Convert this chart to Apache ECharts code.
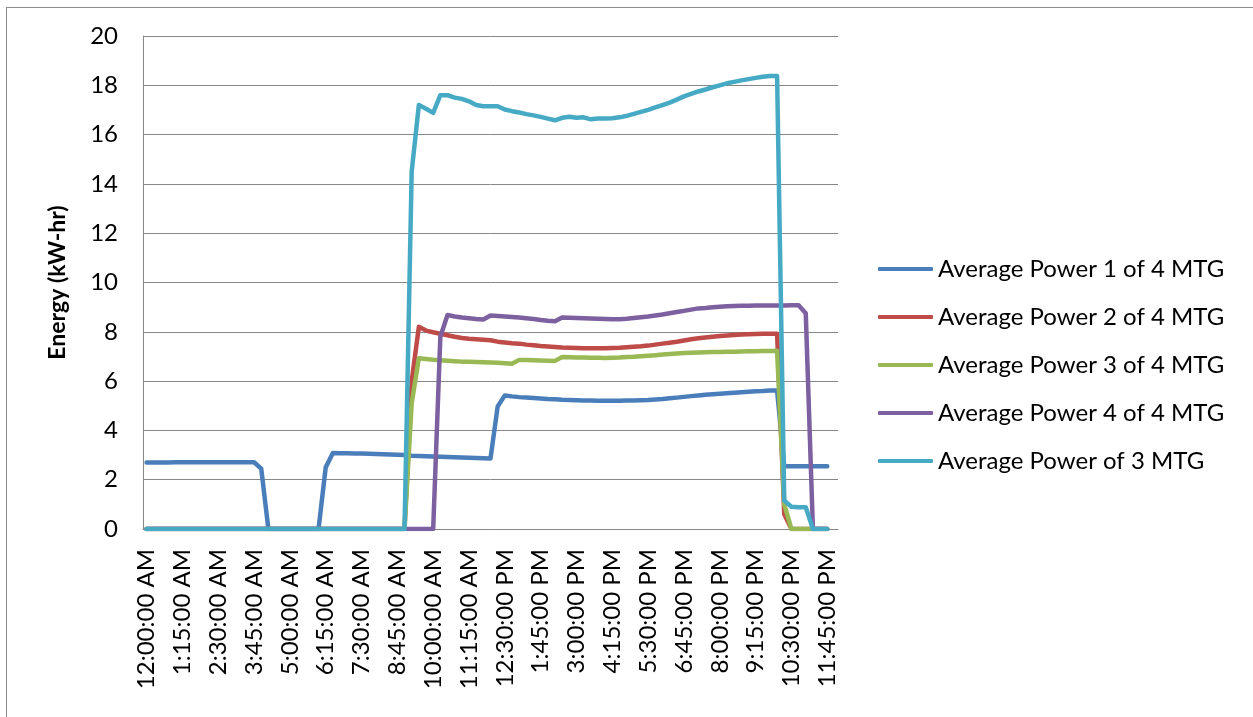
<!DOCTYPE html>
<html>
<head>
<meta charset="utf-8">
<script src="https://cdn.jsdelivr.net/npm/echarts@6/dist/echarts.min.js"></script>
<style>
  html, body { margin: 0; padding: 0; background: #fff; }
  #wrap { position: relative; width: 1253px; height: 717px; overflow: hidden; }
  #frame { position: absolute; left: 6px; top: 7px; right: -4px; bottom: -4px;
           border-top: 1px solid #8c8c8c; border-left: 1px solid #8c8c8c; }
  #chart { position: absolute; left: 0; top: 0; width: 1253px; height: 717px; }
</style>
</head>
<body>
<div id="wrap">
  <div id="frame"></div>
  <div id="chart"></div>
</div>
<script>
// 15-minute time slots for one day (plus the closing midnight slot)
const timeSlots = [
  '12:00:00 AM','12:15:00 AM','12:30:00 AM','12:45:00 AM',
  '1:00:00 AM','1:15:00 AM','1:30:00 AM','1:45:00 AM',
  '2:00:00 AM','2:15:00 AM','2:30:00 AM','2:45:00 AM',
  '3:00:00 AM','3:15:00 AM','3:30:00 AM','3:45:00 AM',
  '4:00:00 AM','4:15:00 AM','4:30:00 AM','4:45:00 AM',
  '5:00:00 AM','5:15:00 AM','5:30:00 AM','5:45:00 AM',
  '6:00:00 AM','6:15:00 AM','6:30:00 AM','6:45:00 AM',
  '7:00:00 AM','7:15:00 AM','7:30:00 AM','7:45:00 AM',
  '8:00:00 AM','8:15:00 AM','8:30:00 AM','8:45:00 AM',
  '9:00:00 AM','9:15:00 AM','9:30:00 AM','9:45:00 AM',
  '10:00:00 AM','10:15:00 AM','10:30:00 AM','10:45:00 AM',
  '11:00:00 AM','11:15:00 AM','11:30:00 AM','11:45:00 AM',
  '12:00:00 PM','12:15:00 PM','12:30:00 PM','12:45:00 PM',
  '1:00:00 PM','1:15:00 PM','1:30:00 PM','1:45:00 PM',
  '2:00:00 PM','2:15:00 PM','2:30:00 PM','2:45:00 PM',
  '3:00:00 PM','3:15:00 PM','3:30:00 PM','3:45:00 PM',
  '4:00:00 PM','4:15:00 PM','4:30:00 PM','4:45:00 PM',
  '5:00:00 PM','5:15:00 PM','5:30:00 PM','5:45:00 PM',
  '6:00:00 PM','6:15:00 PM','6:30:00 PM','6:45:00 PM',
  '7:00:00 PM','7:15:00 PM','7:30:00 PM','7:45:00 PM',
  '8:00:00 PM','8:15:00 PM','8:30:00 PM','8:45:00 PM',
  '9:00:00 PM','9:15:00 PM','9:30:00 PM','9:45:00 PM',
  '10:00:00 PM','10:15:00 PM','10:30:00 PM','10:45:00 PM',
  '11:00:00 PM','11:15:00 PM','11:30:00 PM','11:45:00 PM',
  '12:00:00 AM'
];

const seriesNames = [
  'Average Power 1 of 4 MTG',
  'Average Power 2 of 4 MTG',
  'Average Power 3 of 4 MTG',
  'Average Power 4 of 4 MTG',
  'Average Power of 3 MTG'
];

// Average power per 15-minute slot (kW-hr)
const power1of4 = [
  2.70,2.70,2.70,2.70,2.71,2.71,2.71,2.71,2.71,2.71,2.71,2.71,2.71,2.71,2.71,2.71,
  2.45,0,0,0,0,0,0,0,0,
  2.50,3.08,3.07,3.07,3.06,3.06,3.05,3.04,3.03,3.02,3.01,3.00,
  2.97,2.96,2.95,2.94,2.93,2.92,2.91,2.90,2.89,2.88,2.87,2.86,
  4.97,5.42,5.38,5.35,5.33,5.31,5.29,5.27,5.26,5.24,5.23,5.22,5.21,5.21,5.20,
  5.20,5.20,5.20,5.21,5.21,5.22,5.23,5.25,5.27,5.30,5.33,5.36,5.39,5.42,5.45,
  5.47,5.49,5.51,5.53,5.55,5.57,5.59,5.60,5.62,5.62,
  2.55,2.55,2.55,2.55,2.55,2.55,2.55
];

const power2of4 = [
  0,0,0,0,0,0,0,0,0,0,0,0,0,0,0,0,0,0,0,0,0,0,0,0,0,0,0,0,0,0,0,0,0,0,0,0,0,
  6.0,8.2,8.05,7.98,7.92,7.86,7.80,7.75,7.72,7.70,7.68,7.66,7.60,7.57,7.54,7.52,
  7.48,7.45,7.42,7.40,7.38,7.36,7.35,7.34,7.33,7.33,7.33,7.33,7.34,7.35,7.37,
  7.39,7.41,7.44,7.48,7.52,7.56,7.60,7.65,7.70,7.74,7.77,7.80,7.83,7.85,7.87,
  7.89,7.90,7.91,7.92,7.92,7.92,
  0.6,0,0,0,0,0,0
];

const power3of4 = [
  0,0,0,0,0,0,0,0,0,0,0,0,0,0,0,0,0,0,0,0,0,0,0,0,0,0,0,0,0,0,0,0,0,0,0,0,0,
  5.1,6.93,6.90,6.87,6.85,6.83,6.81,6.79,6.78,6.77,6.76,6.75,6.74,6.72,6.70,
  6.86,6.86,6.85,6.84,6.83,6.82,6.98,6.97,6.96,6.96,6.95,6.95,6.94,6.95,6.96,
  6.98,6.99,7.01,7.03,7.05,7.08,7.10,7.12,7.14,7.15,7.16,7.17,7.18,7.18,7.19,
  7.19,7.20,7.21,7.21,7.22,7.22,7.23,
  1.0,0,0,0,0,0,0
];

const power4of4 = [
  0,0,0,0,0,0,0,0,0,0,0,0,0,0,0,0,0,0,0,0,0,0,0,0,0,0,0,0,0,0,0,0,0,0,0,0,0,
  0,0,0,0,
  7.8,8.68,8.62,8.58,8.55,8.52,8.50,8.66,8.64,8.62,8.60,8.58,8.55,8.52,8.48,
  8.45,8.43,8.58,8.57,8.56,8.55,8.54,8.53,8.52,8.51,8.51,8.53,8.56,8.59,8.62,
  8.66,8.70,8.75,8.80,8.85,8.90,8.95,8.97,9.00,9.02,9.04,9.05,9.06,9.06,9.07,
  9.07,9.07,9.07,9.07,9.08,9.08,8.75,
  0,0,0
];

const powerOf3 = [
  0,0,0,0,0,0,0,0,0,0,0,0,0,0,0,0,0,0,0,0,0,0,0,0,0,0,0,0,0,0,0,0,0,0,0,0,0,
  14.5,17.2,17.05,16.88,17.6,17.6,17.5,17.45,17.35,17.2,17.15,17.15,17.15,
  17.02,16.95,16.9,16.83,16.78,16.72,16.65,16.58,16.68,16.72,16.68,16.70,
  16.62,16.65,16.65,16.66,16.70,16.76,16.84,16.92,17.0,17.1,17.2,17.3,17.42,
  17.55,17.65,17.75,17.83,17.92,18.0,18.08,18.14,18.2,18.25,18.3,18.35,18.38,
  18.38,
  1.15,0.9,0.88,0.88,0,0,0
];

const seriesData = [power1of4, power2of4, power3of4, power4of4, powerOf3];
const seriesColors = ['#4A7EBB', '#BE4B48', '#98B954', '#7D60A0', '#46AAC5'];

const FONT = 'Lato, "Open Sans", sans-serif';
const GRID_COLOR = '#878787';

const chart = echarts.init(document.getElementById('chart'), null, { renderer: 'canvas' });

chart.setOption({
  animation: false,
  backgroundColor: 'transparent',
  textStyle: { fontFamily: FONT },
  grid: { left: 143, right: 415, top: 36, bottom: 188 },
  legend: {
    orient: 'vertical',
    left: 878,
    top: 254,
    padding: 0,
    icon: 'roundRect',
    itemWidth: 55,
    itemHeight: 4,
    itemGap: 18,
    data: seriesNames,
    textStyle: { fontFamily: FONT, fontSize: 24, color: '#000', lineHeight: 30 }
  },
  xAxis: {
    type: 'category',
    data: timeSlots,
    boundaryGap: true,
    axisLine: { show: true, lineStyle: { color: GRID_COLOR, width: 1 } },
    axisTick: { show: false },
    axisLabel: {
      interval: 4,
      rotate: 90,
      margin: 20,
      fontFamily: FONT,
      fontSize: 24,
      color: '#000'
    },
    splitLine: { show: false }
  },
  yAxis: {
    type: 'value',
    min: 0,
    max: 20,
    interval: 2,
    name: 'Energy (kW-hr)',
    nameLocation: 'middle',
    nameGap: 74,
    nameTextStyle: { fontFamily: FONT, fontSize: 23, fontWeight: 'bold', color: '#000' },
    axisLine: { show: true, lineStyle: { color: GRID_COLOR, width: 1 } },
    axisTick: { show: false },
    axisLabel: { margin: 25, fontFamily: FONT, fontSize: 24, color: '#000' },
    splitLine: { show: true, lineStyle: { color: GRID_COLOR, width: 1 } }
  },
  series: seriesNames.map((name, k) => ({
    name: name,
    type: 'line',
    data: seriesData[k],
    symbol: 'none',
    showSymbol: false,
    color: seriesColors[k],
    lineStyle: { width: 4.5, color: seriesColors[k], cap: 'round', join: 'round' },
    emphasis: { disabled: true }
  }))
});
</script>
</body>
</html>
